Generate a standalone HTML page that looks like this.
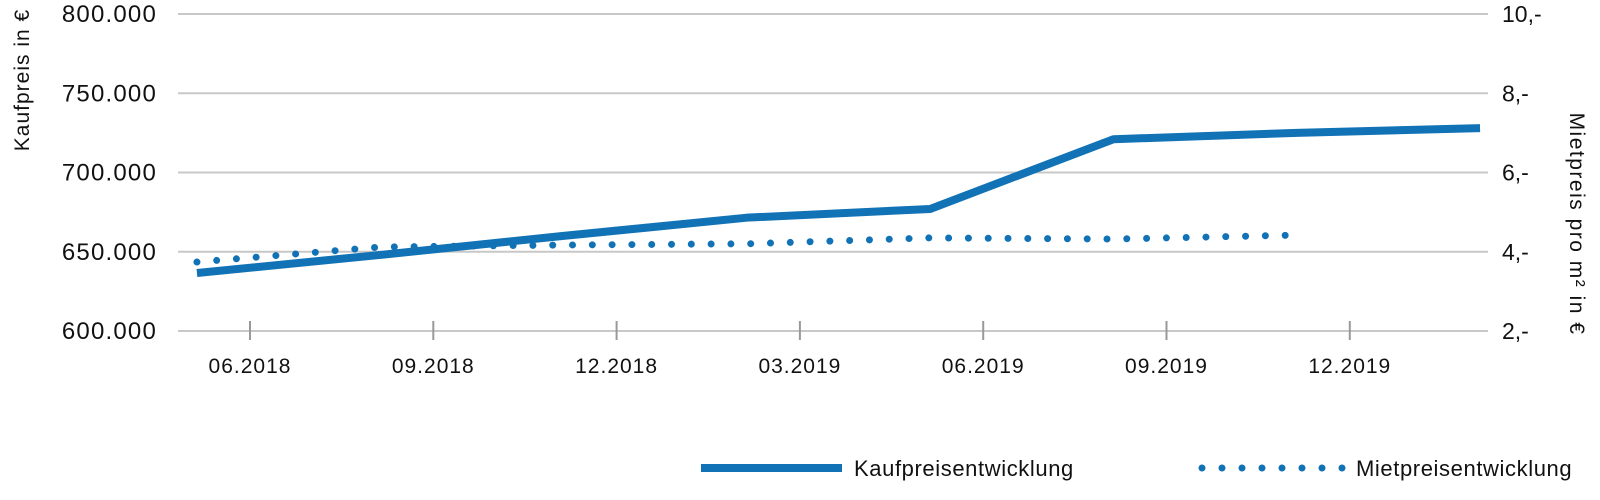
<!DOCTYPE html>
<html><head><meta charset="utf-8"><style>
html,body{margin:0;padding:0;background:#fff;}
svg{display:block;font-family:"Liberation Sans",sans-serif;}
</style></head><body>
<svg id="chart" width="1600" height="500" viewBox="0 0 1600 500">
<g id="grid"></g>
<g id="yleft"></g>
<g id="yright"></g>
<g id="xaxis"></g>
<g id="series"></g>
<text transform="translate(29,80) rotate(-90)" text-anchor="middle" font-size="21" letter-spacing="1" fill="#111">Kaufpreis in €</text>
<text transform="translate(1570,224) rotate(90)" text-anchor="middle" font-size="21" letter-spacing="1.5" fill="#111">Mietpreis pro m² in €</text>
<g>
<g>
<line x1="701" y1="468" x2="842" y2="468" stroke="#1172b6" stroke-width="8"/>
<text x="854" y="476" font-size="22" letter-spacing="0.6" fill="#111">Kaufpreisentwicklung</text>
</g>
<g>
<line x1="1202" y1="468" x2="1343" y2="468" stroke="#1172b6" stroke-width="7" stroke-linecap="round" stroke-dasharray="0 20"/>
<text x="1356" y="476" font-size="22" letter-spacing="0.6" fill="#111">Mietpreisentwicklung</text>
</g>
</g>
</svg>
<script>
const dates = ["2018-05-05","2018-08-05","2018-11-05","2019-02-05","2019-05-05","2019-08-05","2019-11-05","2020-02-05"];
const kaufValues = [636600,648000,660000,671500,677000,721000,725000,728000];
const mietDates = ["2018-05-05","2018-08-05","2018-11-05","2019-02-05","2019-05-05","2019-08-05","2019-11-05"];
const mietValues = [3.74,4.12,4.17,4.2,4.35,4.32,4.42];
const leftTicks = [600000,650000,700000,750000,800000];
const leftTickLabels = ["600.000","650.000","700.000","750.000","800.000"];
const rightTicks = [2,4,6,8,10];
const rightTickLabels = ["2,-","4,-","6,-","8,-","10,-"];
const xTicks = ["2018-06-01","2018-09-01","2018-12-01","2019-03-01","2019-06-01","2019-09-01","2019-12-01"];
const xTickLabels = ["06.2018","09.2018","12.2018","03.2019","06.2019","09.2019","12.2019"];

const NS="http://www.w3.org/2000/svg";
const L=178,R=1488,T=14,B=331;
function monthIdx(s){const p=s.split("-").map(Number);return p[0]*12+(p[1]-1)+(p[2]-1)/30.4;}
const m0=monthIdx("2018-06-01");
function xs(s){return 250+(monthIdx(s)-m0)*61.1;}
function yl(v){return B-(v-600000)/200000*(B-T);}
function yr(v){return B-(v-2)/8*(B-T);}
function mk(tag,attrs,parent){const e=document.createElementNS(NS,tag);for(const k in attrs)e.setAttribute(k,attrs[k]);parent.appendChild(e);return e;}
const grid=document.getElementById("grid"),yleft=document.getElementById("yleft"),yright=document.getElementById("yright"),xaxis=document.getElementById("xaxis"),series=document.getElementById("series");
leftTicks.forEach((v,i)=>{
  const g=mk("line",{x1:L,x2:R,y1:yl(v),y2:yl(v),stroke:"#c8c8c8","stroke-width":2},grid);
  
  
  const t=mk("text",{x:157,y:yl(v)+8,"text-anchor":"end","font-size":24,"letter-spacing":1.2,fill:"#111"},yleft);
  t.textContent=leftTickLabels[i];
  
  
});
rightTicks.forEach((v,i)=>{
  const t=mk("text",{x:1502,y:yr(v)+8,"font-size":23,fill:"#111"},yright);
  t.textContent=rightTickLabels[i];
  
  
});
xTicks.forEach((d,i)=>{
  const x=xs(d);
  const tk=mk("line",{x1:x,x2:x,y1:321,y2:340,stroke:"#999","stroke-width":2},xaxis);
  
  
  const t=mk("text",{x:x,y:373,"text-anchor":"middle","font-size":21,"letter-spacing":1,fill:"#111"},xaxis);
  t.textContent=xTickLabels[i];
  
  
});
const kp=mk("polyline",{points:dates.map((d,i)=>xs(d)+","+yl(kaufValues[i])).join(" "),fill:"none",stroke:"#1172b6","stroke-width":8,"stroke-linejoin":"round"},series);


const mp=mk("polyline",{points:mietDates.map((d,i)=>xs(d)+","+yr(mietValues[i])).join(" "),fill:"none",stroke:"#1172b6","stroke-width":7,"stroke-linecap":"round","stroke-dasharray":"0 19.8"},series);


</script>
</body></html>
